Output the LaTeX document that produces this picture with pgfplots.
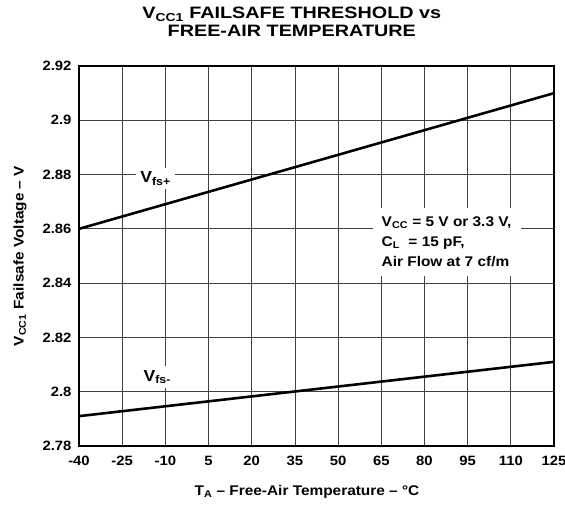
\documentclass[border=0pt]{standalone}
\usepackage{pgfplots}
\pgfplotsset{compat=1.18}
\usepackage{fontspec}
\setmainfont{Liberation Sans}[FakeStretch=1.1]
\newfontfamily\titlefont{Liberation Sans}[FakeStretch=1.2]
\begin{document}
\begin{tikzpicture}
\useasboundingbox (-79pt,-58pt) rectangle (486pt,446pt);
\begin{axis}[
  at={(0,0)}, anchor=south west,
  scale only axis,
  width=475pt, height=380pt,
  xmin=-40, xmax=125, ymin=2.78, ymax=2.92,
  xtick={-40,-25,...,125},
  ytick={2.78,2.80,...,2.92},
  yticklabels={2.78,2.8,2.82,2.84,2.86,2.88,2.9,2.92},
  /pgf/number format/assume math mode=true,
  tick label style={font=\fontsize{13.5}{15}\selectfont\bfseries},
  xticklabel style={yshift=-7pt},
  yticklabel style={xshift=-4pt},
  grid=major,
  major grid style={draw=black!75, line width=0.8pt},
  major tick length=0pt,
  axis line style={line width=1.8pt},
  xlabel={T\textsubscript{A} -- Free-Air Temperature -- °C},
  ylabel={V\textsubscript{CC1} Failsafe Voltage -- V},
  label style={font=\fontsize{14}{15}\selectfont\bfseries},
  xlabel style={at={(axis description cs:0.48,-0.121)}, anchor=center},
  ylabel style={at={(axis description cs:-0.124,0.5)}, anchor=center},
  title={V\textsubscript{CC1} FAILSAFE THRESHOLD vs\\FREE-AIR TEMPERATURE},
  title style={font=\titlefont\bfseries\fontsize{16.5}{18.5}\selectfont, align=center, at={(axis description cs:0.448,1.1)}, anchor=center},
]
\addplot[black, line width=2.6pt] coordinates {(-40,2.860) (125,2.910)};
\addplot[black, line width=2.6pt] coordinates {(-40,2.791) (125,2.811)};
\node[fill=white, font=\fontsize{16}{18}\selectfont\bfseries, inner sep=4pt] at (axis cs:-13.4,2.8785) {V\textsubscript{fs+}};
\node[fill=white, font=\fontsize{16}{18}\selectfont\bfseries, inner sep=4pt] at (axis cs:-12.8,2.8054) {V\textsubscript{fs-}};
\node[fill=white, font=\fontsize{14}{20}\selectfont\bfseries, align=left, inner xsep=9pt, inner ysep=9pt] at (axis cs:87.7,2.8553) {V\textsubscript{CC} = 5 V or 3.3 V,\\C\textsubscript{L}~~= 15 pF,\\Air Flow at 7 cf/m};
\end{axis}
\end{tikzpicture}
\end{document}
